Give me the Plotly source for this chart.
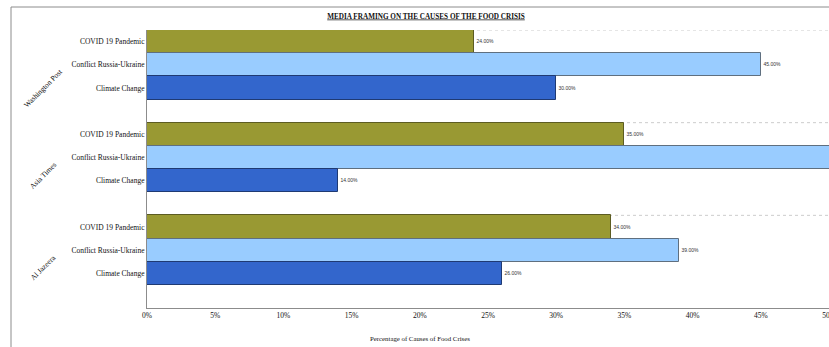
import plotly.graph_objects as go

# ---- data ----
outlets = ["Washington Post", "Asia Times", "Al Jazeera"]
causes = ["COVID 19 Pandemic", "Conflict Russia-Ukraine", "Climate Change"]
covid_pct = [24, 35, 34]
conflict_pct = [45, 51, 39]
climate_pct = [30, 14, 26]
x_tick_vals = [0, 5, 10, 15, 20, 25, 30, 35, 40, 45, 50]
x_tick_text = ["0%", "5%", "10%", "15%", "20%", "25%", "30%", "35%", "40%", "45%", "50%"]
x_max = 50

series = [covid_pct, conflict_pct, climate_pct]
fills = ["#999933", "#99CCFF", "#3366CC"]
edges = ["#5c5c22", "#5f6f7f", "#1f3a73"]

slots_per_group = len(causes) + 1  # one empty slot between groups

fig = go.Figure()
for ci, (name, vals) in enumerate(zip(causes, series)):
    ys = [gi * slots_per_group + ci for gi in range(len(outlets))]
    fig.add_trace(go.Bar(
        x=vals, y=ys, orientation="h", name=name, width=1,
        marker=dict(color=fills[ci], line=dict(color=edges[ci], width=1)),
        texttemplate="%{x:.2f}%",
        textposition=["outside" if v < x_max else "none" for v in vals],
        textfont=dict(family="Liberation Sans", size=5, color="#333333"),
        constraintext="none", cliponaxis=True, showlegend=False,
    ))

tickvals, ticktext = [], []
for gi in range(len(outlets)):
    for ci, c in enumerate(causes):
        tickvals.append(gi * slots_per_group + ci)
        ticktext.append(c)

n_slots = len(outlets) * slots_per_group - 1
L, R, T, B = 147, 0, 30, 39
W, H = 829, 347
pw, ph = W - L - R, H - T - B

shapes = []
for gi in range(len(outlets)):
    ytop = gi * slots_per_group - 0.5
    shapes.append(dict(type="line", xref="paper", yref="y", x0=0, x1=1, y0=ytop, y1=ytop,
                       line=dict(color="#cccccc", width=1, dash="dot"), layer="below"))
# outer frame
shapes.append(dict(type="rect", xref="paper", yref="paper",
                   x0=(11 - L) / pw, x1=1.2, y0=-0.6, y1=1 + (T - 7) / ph,
                   line=dict(color="#8c8c8c", width=1), fillcolor="rgba(0,0,0,0)"))

annotations = []
for gi, o in enumerate(outlets):
    yc = gi * slots_per_group + (len(causes) - 1) / 2
    annotations.append(dict(text=o, xref="paper", yref="y", x=(43 - L) / pw, y=yc,
                            xanchor="center", yanchor="top", textangle=-45, showarrow=False,
                            font=dict(family="Liberation Serif", size=7.5, color="#111111")))
annotations.append(dict(text="Percentage of Causes of Food Crises", xref="paper", yref="paper",
                        x=(420 - L) / pw, y=-(338 - (H - B)) / ph, xanchor="center", yanchor="middle",
                        showarrow=False, font=dict(family="Liberation Serif", size=6.8, color="#111111")))

fig.update_layout(
    width=W, height=H, autosize=False,
    margin=dict(l=L, r=R, t=T, b=B, pad=0, autoexpand=False),
    paper_bgcolor="white", plot_bgcolor="white",
    title=dict(text="<b><u>MEDIA FRAMING ON THE CAUSES OF THE FOOD CRISIS</u></b>",
               xref="container", yref="container", x=426 / W, y=1 - 16 / H,
               xanchor="center", yanchor="middle",
               font=dict(family="Liberation Serif", size=7.2, color="#111111")),
    barmode="overlay", bargap=0,
    xaxis=dict(range=[0, x_max], tickvals=x_tick_vals, ticktext=x_tick_text,
               ticklabeloverflow="allow", automargin=False,
               showgrid=False, zeroline=False, showline=True, linecolor="#8c8c8c", linewidth=1,
               ticks="", tickfont=dict(family="Liberation Serif", size=7.5, color="#111111")),
    yaxis=dict(range=[n_slots + 0.5, -0.5], tickvals=tickvals, ticktext=ticktext,
               automargin=False,
               showgrid=False, zeroline=False, showline=True, linecolor="#8c8c8c", linewidth=1,
               ticks="", tickfont=dict(family="Liberation Serif", size=7.5, color="#111111")),
    shapes=shapes, annotations=annotations,
)

fig.write_html("out.html")
